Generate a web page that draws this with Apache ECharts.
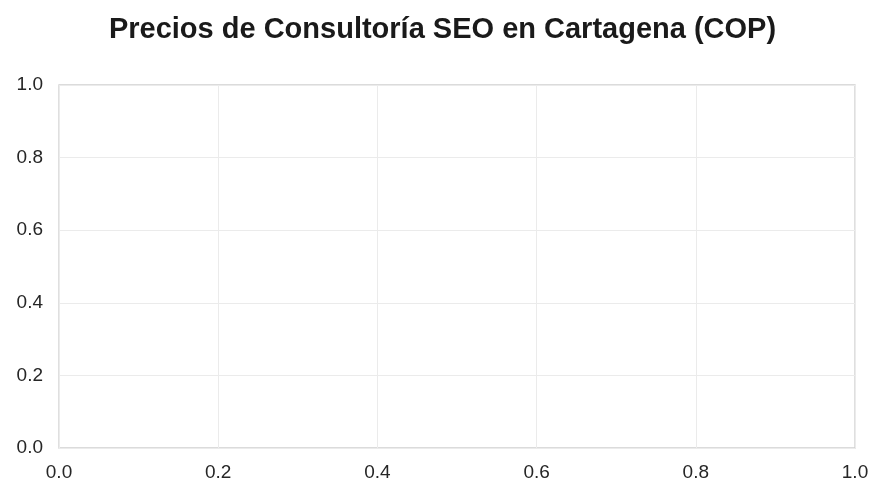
<!DOCTYPE html>
<html>
<head>
<meta charset="utf-8">
<script src="https://cdn.jsdelivr.net/npm/echarts@6/dist/echarts.min.js"></script>
<style>
  html, body { margin: 0; padding: 0; background: #fff; }
  #main { width: 885px; height: 497px; }
</style>
</head>
<body>
<div id="main"></div>
<script>
// the source chart has no data drawn, only empty axes from 0 to 1
var titleText = 'Precios de Consultoría SEO en Cartagena (COP)';
var xTicks = [0.0, 0.2, 0.4, 0.6, 0.8, 1.0];
var yTicks = [0.0, 0.2, 0.4, 0.6, 0.8, 1.0];
var points = [];

var chartDom = document.getElementById('main');
var myChart = echarts.init(chartDom);
var option;

var tickFont = {
  color: '#262626',
  fontSize: 19,
  fontFamily: 'Liberation Sans, Arial, sans-serif'
};

option = {
  backgroundColor: '#fff',
  animation: false,
  title: {
    text: titleText,
    left: 'center',
    top: 10,
    textStyle: {
      color: '#1a1a1a',
      fontSize: 29,
      fontWeight: 'bold',
      fontFamily: 'Liberation Sans, Arial, sans-serif'
    }
  },
  grid: {
    left: 59,
    right: 30,
    top: 85,
    bottom: 49,
    show: true,
    borderColor: '#cfcfcf',
    borderWidth: 1.3
  },
  xAxis: {
    type: 'value',
    min: xTicks[0],
    max: xTicks[xTicks.length - 1],
    interval: 0.2,
    axisLine: { show: false },
    axisTick: { show: false },
    axisLabel: Object.assign({ margin: 15, formatter: function (v) { return v.toFixed(1); } }, tickFont),
    splitLine: { show: true, lineStyle: { color: '#ebebeb', width: 1 } }
  },
  yAxis: {
    type: 'value',
    min: yTicks[0],
    max: yTicks[yTicks.length - 1],
    interval: 0.2,
    axisLine: { show: false },
    axisTick: { show: false },
    axisLabel: Object.assign({ margin: 16, padding: [5, 0, 0, 0], formatter: function (v) { return v.toFixed(1); } }, tickFont),
    splitLine: { show: true, lineStyle: { color: '#ebebeb', width: 1 } }
  },
  series: [
    {
      type: 'scatter',
      data: points
    }
  ]
};

option && myChart.setOption(option);
</script>
</body>
</html>
